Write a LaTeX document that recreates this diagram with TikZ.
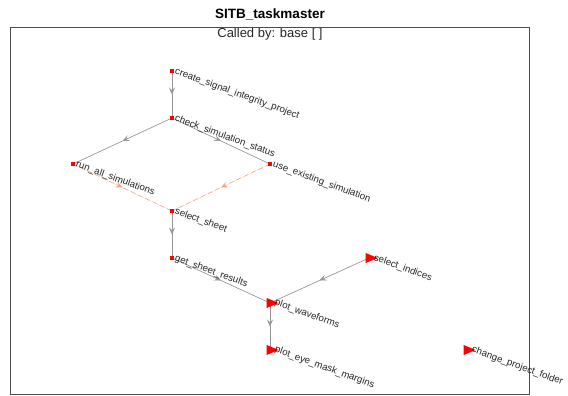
\documentclass[tikz,border=0pt]{standalone}
\usepackage{fontspec}
\setmainfont{Liberation Sans}
\usetikzlibrary{arrows.meta, shapes.geometric, decorations.markings, backgrounds}

\definecolor{edgegray}{RGB}{150,150,150}
\definecolor{dashorange}{RGB}{242,165,130}
\definecolor{txtdark}{RGB}{38,38,38}

\begin{document}
\begin{tikzpicture}[
    x=1pt, y=-1pt,
    sq/.style={rectangle, fill=red, minimum size=4pt, inner sep=0pt},
    tri/.style={isosceles triangle, isosceles triangle stretches, fill=red, minimum width=10pt, minimum height=12pt, inner sep=0pt},
    lbl/.style={rotate=-20, anchor=west, inner sep=1pt, text=txtdark, font=\fontsize{9.7}{10}\selectfont},
    tlbl/.style={lbl, xshift=-5pt, yshift=-1pt},
    midarrow/.style={postaction={decorate}, decoration={markings, mark=at position 0.5 with {\arrow[solid]{Stealth[length=7pt, width=6pt, inset=3pt]}}}},
    link/.style={draw=edgegray, fill=edgegray, line width=0.6pt, midarrow},
    alt/.style={draw=dashorange, fill=dashorange, line width=0.6pt, dash pattern=on 5pt off 3pt, midarrow}
]
\useasboundingbox (0,0) rectangle (568,396);

% Title and frame
\node[font=\fontsize{13.5}{14}\bfseries] (title) at (270,14) {SITB\_taskmaster};
\node[font=\fontsize{13}{14}\selectfont, text=txtdark] (caller) at (270,34.5) {Called by: base [ ]};
\draw[draw=black!70, line width=0.7pt] (10,27) rectangle (529,394);

% Functions (square = has callees, triangle = leaf)
\node[sq, label={[lbl]right:create\_signal\_integrity\_project}] (create) at (172,71) {};
\node[sq, label={[lbl]right:check\_simulation\_status}] (check) at (172,118) {};
\node[sq, label={[lbl]right:run\_all\_simulations}] (runall) at (73,164) {};
\node[sq, label={[lbl]right:use\_existing\_simulation}] (useexist) at (270,164) {};
\node[sq, label={[lbl]right:select\_sheet}] (selsheet) at (172,211) {};
\node[sq, label={[lbl]right:get\_sheet\_results}] (getres) at (172,258) {};
\node[tri, label={[tlbl]right:select\_indices}] (selidx) at (369,258) {};
\node[tri, label={[tlbl]right:plot\_waveforms}] (plotwave) at (270,303) {};
\node[tri, label={[tlbl]right:plot\_eye\_mask\_margins}] (ploteye) at (270,350) {};
\node[tri, label={[tlbl]right:change\_project\_folder}] (chgfolder) at (467,350) {};

% Calls
\begin{scope}[on background layer]
\path[link] (create.center) -- (check.center);
\path[link] (check.center) -- (runall.center);
\path[link] (check.center) -- (useexist.center);
\path[alt] (runall.center) -- (selsheet.center);
\path[alt] (useexist.center) -- (selsheet.center);
\path[link] (selsheet.center) -- (getres.center);
\path[link] (getres.center) -- (plotwave.center);
\path[link] (selidx.center) -- (plotwave.center);
\path[link] (plotwave.center) -- (ploteye.center);
\end{scope}

\end{tikzpicture}
\end{document}
